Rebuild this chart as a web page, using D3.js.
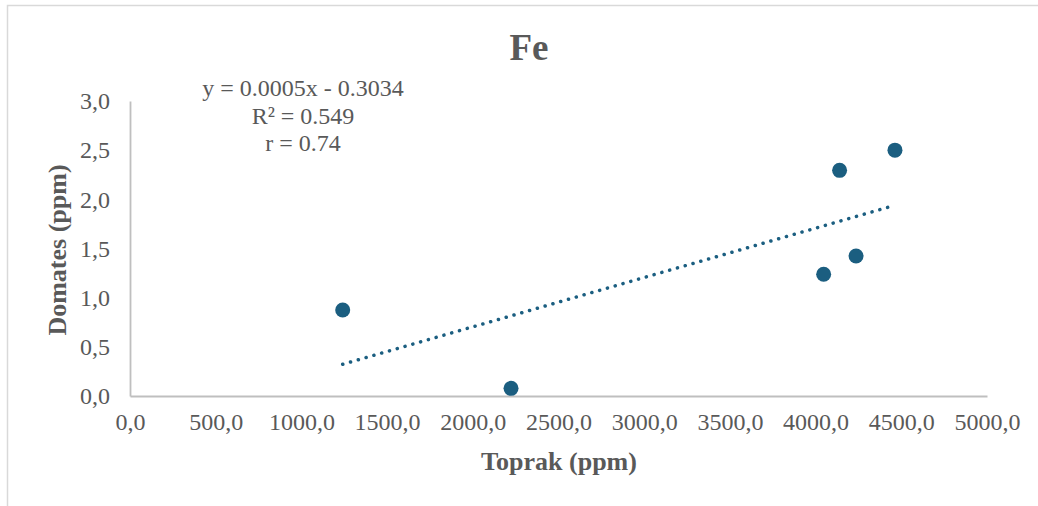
<!DOCTYPE html>
<html>
<head>
<meta charset="utf-8">
<script src="https://cdn.jsdelivr.net/npm/d3@7/dist/d3.min.js"></script>
<style>
  html, body { margin: 0; padding: 0; background: #fff; }
  svg { display: block; }
  text { font-family: "Liberation Serif", "Times New Roman", serif; fill: #595959; }
</style>
</head>
<body>
<svg id="chart" width="1038" height="506"></svg>
<script>
// ---- data ----
const toprak  = [1241, 2223, 4047, 4140, 4236, 4463];
const domates = [0.875, 0.078, 1.238, 2.295, 1.424, 2.50];
const xTicks = [0, 500, 1000, 1500, 2000, 2500, 3000, 3500, 4000, 4500, 5000];
const yTicks = [0, 0.5, 1.0, 1.5, 2.0, 2.5, 3.0];
const titleText = "Fe";
const xTitle = "Toprak (ppm)";
const yTitle = "Domates (ppm)";
const eqLines = ["y = 0.0005x - 0.3034", "R² = 0.549", "r = 0.74"];

// ---- layout ----
const svg = d3.select("#chart");
const W = 1038, H = 506;
const plot = { left: 130, right: 987, top: 101, bottom: 396 };
const color = "#1b5e80";
const fmt = v => d3.format(".1f")(v).replace(".", ",");

// chart border (cropped frame)
svg.append("path")
  .attr("d", `M7.5,${H} V5.5 H${W}`)
  .attr("fill", "none").attr("stroke", "#d9d9d9").attr("stroke-width", 1.5);

const x = d3.scaleLinear().domain([0, 5000]).range([plot.left, plot.right]);
const y = d3.scaleLinear().domain([0, 3]).range([plot.bottom, plot.top]);

// axes
const xAxis = svg.append("g").attr("transform", `translate(0,${plot.bottom})`)
  .call(d3.axisBottom(x).tickValues(xTicks).tickFormat(fmt).tickSize(0).tickPadding(18));
const yAxis = svg.append("g").attr("transform", `translate(${plot.left},0)`)
  .call(d3.axisLeft(y).tickValues(yTicks).tickFormat(fmt).tickSize(0).tickPadding(20));
[xAxis, yAxis].forEach(a => {
  a.select(".domain").attr("stroke", "#bfbfbf").attr("stroke-width", 1.8);
  a.selectAll("text").style("font-size", "24px").attr("fill", "#595959")
    .style("font-family", '"Liberation Serif", "Times New Roman", serif');
});
xAxis.selectAll("text").attr("dy", "0.71em").attr("y", 17);

// trendline (least squares through the points)
const mx = d3.mean(toprak), my = d3.mean(domates);
const sxy = d3.sum(toprak, (v, i) => (v - mx) * (domates[i] - my));
const sxx = d3.sum(toprak, v => (v - mx) * (v - mx));
const slope = sxy / sxx, intercept = my - slope * mx;
const x0 = d3.min(toprak), x1 = d3.max(toprak);
svg.append("line")
  .attr("x1", x(x0)).attr("y1", y(slope * x0 + intercept))
  .attr("x2", x(x1)).attr("y2", y(slope * x1 + intercept))
  .attr("stroke", color).attr("stroke-width", 3.5)
  .attr("stroke-linecap", "round").attr("stroke-dasharray", "0.1 8");

// points
svg.append("g").selectAll("circle").data(toprak).join("circle")
  .attr("cx", d => x(d)).attr("cy", (d, i) => y(domates[i]))
  .attr("r", 7.5).attr("fill", color);

// title
svg.append("text").attr("x", 529).attr("y", 60).attr("text-anchor", "middle")
  .style("font-size", "37px").style("font-weight", "bold").text(titleText);

// axis titles
svg.append("text").attr("x", 559).attr("y", 470).attr("text-anchor", "middle")
  .style("font-size", "26px").style("font-weight", "bold").text(xTitle);
svg.append("text").attr("transform", "translate(66,250) rotate(-90)")
  .attr("text-anchor", "middle")
  .style("font-size", "26px").style("font-weight", "bold").text(yTitle);

// equation label
svg.append("g").selectAll("text").data(eqLines).join("text")
  .attr("x", 303).attr("y", (d, i) => 96 + i * 27.5)
  .attr("text-anchor", "middle").style("font-size", "24px").text(d => d);
</script>
</body>
</html>
